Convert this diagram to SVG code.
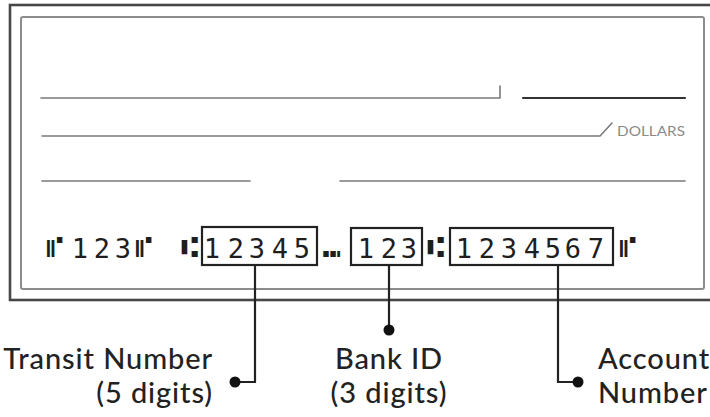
<svg xmlns="http://www.w3.org/2000/svg" width="710" height="417" viewBox="0 0 710 417">
<style>
.frame{fill:none}
.ln{fill:none;stroke:#7a7a7a;stroke-width:1.6;stroke-linecap:round}
.micr{font-family:"DejaVu Sans Mono","Liberation Mono",monospace;font-size:27px;fill:#1e1e1e;text-anchor:middle}
.sym{font-family:"DejaVu Sans","Noto Sans",sans-serif;font-size:29px;fill:#1e1e1e;text-anchor:middle}
.box{fill:none;stroke:#222;stroke-width:2.2}
.lbl{font-family:Lato,"Noto Sans",sans-serif;font-size:29px;font-weight:500;letter-spacing:0.9px;fill:#222}
.conn{fill:none;stroke:#222;stroke-width:2.2}
.dot{fill:#111}
</style>
<rect width="710" height="417" fill="#fff"/>
<g id="check">
<rect class="frame" x="10" y="5" width="720" height="295" stroke="#474747" stroke-width="2.6"/>
<rect class="frame" x="21" y="17" width="683" height="272" rx="2" stroke="#8c8c8c" stroke-width="2"/>
<path class="ln" d="M41 98 H500 V86"/>
<path d="M523 98 H685" stroke="#333" stroke-width="2.2" stroke-linecap="round"/>
<path class="ln" d="M42 136 H600 L612 123" stroke="#8a8a8a"/>
<text x="617" y="136" font-family="Lato,'Noto Sans',sans-serif" font-size="12.5" fill="#8a8a8a" textLength="68" lengthAdjust="spacingAndGlyphs">DOLLARS</text>
<path class="ln" d="M42 181 H250"/>
<path class="ln" d="M340 181 H685"/>
</g>
<g id="micr-line">
<text class="sym" x="54" y="257">⑈</text>
<text class="micr" x="80 102 123" y="258">123</text>
<text class="sym" x="143" y="257">⑈</text>
<text class="sym" x="189" y="257">⑆</text>
<text class="sym" x="331" y="257">⑉</text>
<text class="sym" x="435" y="257">⑆</text>
<text class="sym" x="627" y="257">⑈</text>
</g>
<g id="transit-box">
<rect class="box" x="202" y="227" width="115" height="38"/>
<text class="micr" x="212 236 257 280 302" y="258">12345</text>
</g>
<g id="bank-box">
<rect class="box" x="351" y="228" width="71" height="37"/>
<text class="micr" x="366 389 409" y="258">123</text>
</g>
<g id="account-box">
<rect class="box" x="450" y="228" width="163" height="37"/>
<text class="micr" x="464 487 509 532 553 573 596" y="258">1234567</text>
</g>
<g id="connectors">
<path class="conn" d="M255 265 V382 H235"/>
<circle class="dot" cx="235" cy="382" r="5.5"/>
<path class="conn" d="M389 265 V330"/>
<circle class="dot" cx="389" cy="330" r="5.5"/>
<path class="conn" d="M558 265 V382 H578"/>
<circle class="dot" cx="578" cy="382" r="5.5"/>
</g>
<g id="label-transit">
<text class="lbl" x="213" y="369" text-anchor="end">Transit Number</text>
<text class="lbl" x="213" y="403" text-anchor="end">(5 digits)</text>
</g>
<g id="label-bank">
<text class="lbl" x="389" y="369" text-anchor="middle">Bank ID</text>
<text class="lbl" x="389" y="403" text-anchor="middle">(3 digits)</text>
</g>
<g id="label-account">
<text class="lbl" x="598" y="369">Account</text>
<text class="lbl" x="598" y="403">Number</text>
</g>
</svg>
